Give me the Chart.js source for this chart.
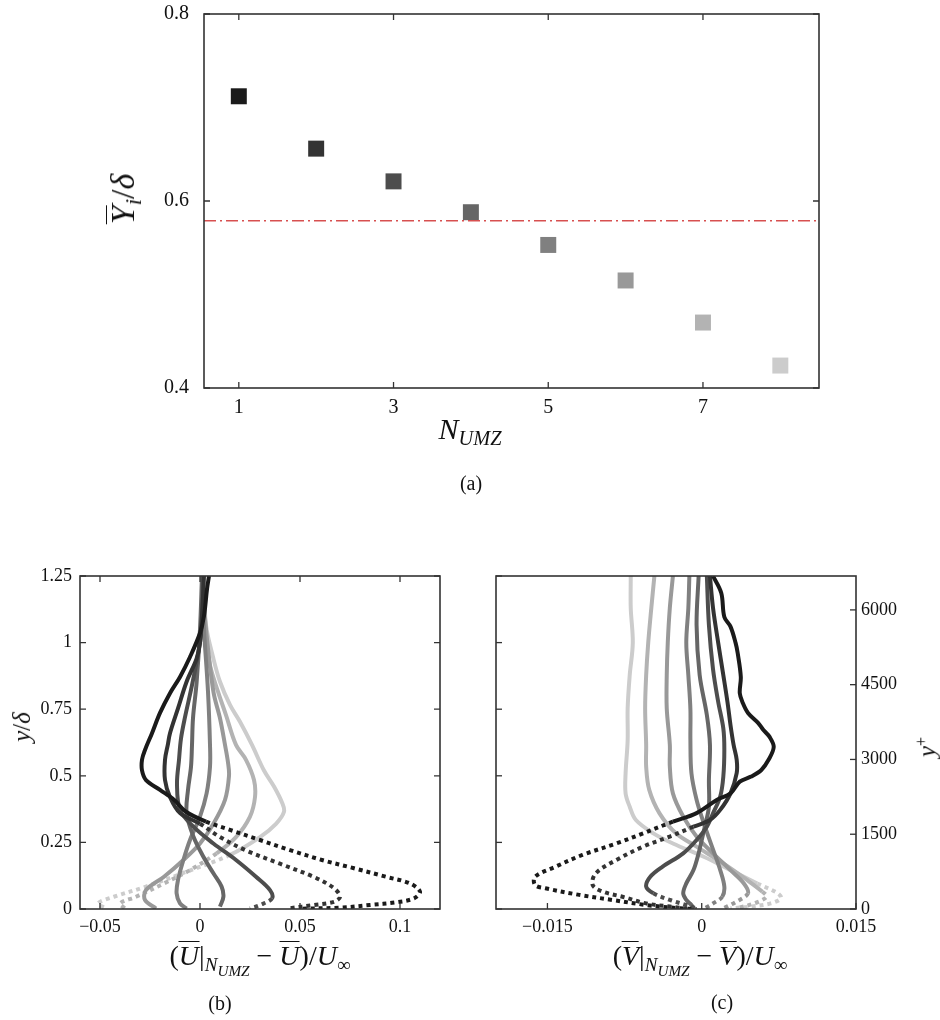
<!DOCTYPE html>
<html>
<head>
<meta charset="utf-8">
<script src="https://cdn.jsdelivr.net/npm/chart.js@4.4.1/dist/chart.umd.min.js"></script>
<style>
    body { margin: 0; width: 940px; height: 1020px; background: #fff; position: relative; overflow: hidden; }
    canvas { position: absolute; }
    .lbl { position: absolute; font-family: 'Liberation Serif', serif; color: #111; white-space: nowrap; transform: translate(-50%, -50%); }
    .rot { transform: translate(-50%, -50%) rotate(-90deg); }
    .ov { display: inline-block; border-top: 1.5px solid #111; line-height: 0.9; padding-top: 1px; }
    sub { font-size: 68%; vertical-align: -0.3em; line-height: 0; }
    sub sub { font-size: 80%; }
</style>
</head>
<body>
<canvas id="chartA" width="740" height="445" style="left:100px; top:0px"></canvas>
<canvas id="chartB" width="460" height="400" style="left:0px; top:560px"></canvas>
<canvas id="chartC" width="470" height="400" style="left:470px; top:560px"></canvas>

<div class="lbl rot" style="left:123px; top:199px; font-size:34px"><i><span class="ov">Y</span><sub>i</sub></i>/<i>δ</i></div>
<div class="lbl" style="left:470px; top:429px; font-size:30px"><i>N<sub>UMZ</sub></i></div>
<div class="lbl" style="left:471px; top:483px; font-size:20px">(a)</div>

<div class="lbl rot" style="left:22px; top:727px; font-size:25px"><i>y</i>/<i>δ</i></div>
<div class="lbl" style="left:260px; top:956px; font-size:28px">(<i class="ov">U</i>|<sub><i>N<sub>UMZ</sub></i></sub> − <i class="ov">U</i>)/<i>U</i><sub>∞</sub></div>
<div class="lbl" style="left:220px; top:1003px; font-size:20px">(b)</div>

<div class="lbl rot" style="left:927px; top:747px; font-size:25px"><i>y</i><sup style="font-size:65%">+</sup></div>
<div class="lbl" style="left:700px; top:956px; font-size:28px">(<i class="ov">V</i>|<sub><i>N<sub>UMZ</sub></i></sub> − <i class="ov">V</i>)/<i>U</i><sub>∞</sub></div>
<div class="lbl" style="left:722px; top:1002px; font-size:20px">(c)</div>

<script>
// -------------------------------------------------------------------------- Data

// (a) mean interface height per number of zones
const nUmz = [1, 2, 3, 4, 5, 6, 7, 8]
const yiMean = [0.712, 0.656, 0.621, 0.588, 0.553, 0.515, 0.470, 0.424]
const threshold = 0.579
const aXTicks = [1, 3, 5, 7]
const aYTicks = [0.4, 0.6, 0.8]

// (b) streamwise velocity deviation profiles, [du, y/delta]
const uCurve1 = [[0.0045, 1.25], [0.0035, 1.2], [0.002, 1.1], [0, 1.036], [-0.005, 0.946], [-0.01, 0.871], [-0.015, 0.81], [-0.02, 0.736], [-0.024, 0.66], [-0.0275, 0.597], [-0.029, 0.56], [-0.029, 0.52], [-0.027, 0.484], [-0.02, 0.447], [-0.013, 0.41], [-0.007, 0.365], [0.003, 0.328], [0.015, 0.297], [0.03, 0.259], [0.045, 0.221], [0.061, 0.184], [0.077, 0.153], [0.093, 0.121], [0.105, 0.096], [0.11, 0.065], [0.107, 0.04], [0.098, 0.025], [0.085, 0.015], [0.07, 0.005], [0.05, 0.001]]
const uCurve2 = [[0.002, 1.25], [0.001, 1.1], [0, 1.0], [-0.0017, 0.94], [-0.0067, 0.853], [-0.011, 0.753], [-0.015, 0.66], [-0.016, 0.62], [-0.0175, 0.56], [-0.0175, 0.484], [-0.015, 0.42], [-0.01, 0.36], [0, 0.32], [0.01, 0.27], [0.023, 0.22], [0.04, 0.17], [0.057, 0.12], [0.067, 0.078], [0.07, 0.046], [0.067, 0.027], [0.057, 0.015], [0.045, 0.003]]
const uCurve3 = [[0.0015, 1.25], [0.001, 1.1], [0, 1.0], [-0.004, 0.84], [-0.0075, 0.72], [-0.0095, 0.64], [-0.0105, 0.56], [-0.0115, 0.47], [-0.01, 0.372], [-0.0033, 0.309], [0.0067, 0.246], [0.018, 0.184], [0.028, 0.121], [0.035, 0.071], [0.036, 0.04], [0.03, 0.015], [0.025, 0.002]]
const uCurve4 = [[0.001, 1.25], [0, 1.05], [-0.0017, 0.85], [-0.0035, 0.716], [-0.004, 0.616], [-0.0045, 0.534], [-0.006, 0.447], [-0.0067, 0.359], [-0.0033, 0.272], [0.0017, 0.196], [0.0067, 0.134], [0.0108, 0.084], [0.0117, 0.046], [0.01, 0.009]]
const uCurve5 = [[0.001, 1.25], [0.002, 1.05], [0.004, 0.816], [0.005, 0.616], [0.005, 0.534], [0.0033, 0.434], [0, 0.347], [-0.005, 0.259], [-0.0083, 0.184], [-0.011, 0.109], [-0.0117, 0.059], [-0.01, 0.021], [-0.0067, 0.002]]
const uCurve6 = [[0.001, 1.25], [0.003, 1.05], [0.0067, 0.816], [0.01, 0.716], [0.0125, 0.616], [0.014, 0.55], [0.0145, 0.5], [0.0125, 0.41], [0.0067, 0.32], [0, 0.246], [-0.0083, 0.184], [-0.018, 0.121], [-0.027, 0.071], [-0.0275, 0.034], [-0.022, 0.002]]
const uCurve7 = [[0.001, 1.25], [0.002, 1.066], [0.005, 0.915], [0.009, 0.816], [0.013, 0.728], [0.018, 0.616], [0.023, 0.56], [0.027, 0.484], [0.0275, 0.42], [0.025, 0.347], [0.018, 0.27], [0.0083, 0.209], [-0.005, 0.146], [-0.018, 0.096], [-0.032, 0.046], [-0.04, 0.021], [-0.0375, 0.002]]
const uCurve8 = [[0.0017, 1.25], [0.003, 1.066], [0.0067, 0.94], [0.01, 0.853], [0.015, 0.766], [0.02, 0.703], [0.026, 0.616], [0.032, 0.52], [0.037, 0.46], [0.041, 0.4], [0.042, 0.365], [0.038, 0.32], [0.03, 0.27], [0.015, 0.203], [-0.0067, 0.14], [-0.027, 0.084], [-0.043, 0.046], [-0.051, 0.021], [-0.047, 0.002]]
const bXTicks = [-0.05, 0, 0.05, 0.1]
const yTicks = [0, 0.25, 0.5, 0.75, 1, 1.25]

// (c) wall-normal velocity deviation profiles, [dv, y/delta]
const vCurve1 = [[0.0011, 1.25], [0.0019, 1.186], [0.0022, 1.096], [0.0028, 1.06], [0.0033, 0.998], [0.0035, 0.96], [0.0038, 0.871], [0.0037, 0.81], [0.004, 0.773], [0.0045, 0.736], [0.0055, 0.698], [0.006, 0.672], [0.0066, 0.646], [0.007, 0.608], [0.0065, 0.56], [0.0058, 0.522], [0.0048, 0.497], [0.0037, 0.478], [0.0028, 0.434], [0.0015, 0.41], [-0.0005, 0.36], [-0.0028, 0.328], [-0.0057, 0.284], [-0.0083, 0.246], [-0.0116, 0.203], [-0.0142, 0.159], [-0.0162, 0.121], [-0.0162, 0.09], [-0.0152, 0.078], [-0.0119, 0.053], [-0.0087, 0.034], [-0.0054, 0.015], [-0.0021, 0.0025], [-0.0005, 0]]
const vCurve2 = [[0.0008, 1.25], [0.0011, 1.13], [0.0016, 1.0], [0.0021, 0.878], [0.0025, 0.778], [0.0028, 0.69], [0.0031, 0.616], [0.0034, 0.56], [0.0034, 0.51], [0.0028, 0.434], [0.0018, 0.372], [0.0008, 0.334], [-0.0008, 0.309], [-0.0031, 0.272], [-0.0057, 0.234], [-0.0083, 0.184], [-0.0103, 0.134], [-0.0106, 0.09], [-0.0096, 0.065], [-0.0077, 0.046], [-0.0054, 0.021], [-0.0031, 0.009], [-0.0011, 0]]
const vCurve3 = [[0.0005, 1.25], [0.0007, 1.066], [0.0011, 0.9], [0.0016, 0.778], [0.0021, 0.678], [0.0022, 0.6], [0.0021, 0.497], [0.0018, 0.422], [0.0011, 0.359], [0.0005, 0.309], [-0.0005, 0.259], [-0.0018, 0.209], [-0.0038, 0.159], [-0.005, 0.121], [-0.0054, 0.084], [-0.0047, 0.059], [-0.0031, 0.034], [-0.0015, 0.015], [-0.0005, 0.002]]
const vCurve4 = [[-0.0003, 1.25], [-0.0005, 1.066], [-0.0002, 0.878], [0.0005, 0.728], [0.0008, 0.616], [0.0007, 0.484], [0.0007, 0.384], [0.0003, 0.309], [0, 0.259], [-0.0003, 0.209], [-0.0008, 0.146], [-0.0015, 0.096], [-0.0018, 0.059], [-0.0015, 0.034], [-0.001, 0.015], [-0.0008, 0.002]]
const vCurve5 = [[-0.0012, 1.25], [-0.0013, 1.13], [-0.0015, 1.0], [-0.0013, 0.878], [-0.0011, 0.75], [-0.0011, 0.634], [-0.001, 0.51], [-0.0005, 0.41], [0.0002, 0.322], [0.001, 0.234], [0.0018, 0.146], [0.0022, 0.084], [0.002, 0.046], [0.0011, 0.021], [0.0003, 0.0025]]
const vCurve6 = [[-0.0028, 1.25], [-0.0031, 1.13], [-0.0033, 1.0], [-0.0034, 0.878], [-0.0034, 0.753], [-0.0031, 0.616], [-0.0031, 0.534], [-0.0028, 0.434], [-0.0018, 0.347], [-0.0005, 0.272], [0.0011, 0.209], [0.0028, 0.146], [0.0041, 0.096], [0.0045, 0.059], [0.0034, 0.028], [0.0021, 0.0025]]
const vCurve7 = [[-0.0046, 1.25], [-0.0049, 1.13], [-0.0052, 1.0], [-0.0054, 0.878], [-0.0055, 0.753], [-0.0054, 0.616], [-0.0054, 0.534], [-0.0051, 0.447], [-0.0041, 0.359], [-0.0025, 0.284], [-0.0005, 0.234], [0.0021, 0.171], [0.0044, 0.109], [0.0059, 0.065], [0.0063, 0.046], [0.0051, 0.021], [0.0034, 0.0025]]
const vCurve8 = [[-0.0069, 1.25], [-0.0069, 1.13], [-0.0067, 1.0], [-0.007, 0.878], [-0.0072, 0.753], [-0.0072, 0.634], [-0.0074, 0.51], [-0.0074, 0.434], [-0.007, 0.384], [-0.0064, 0.334], [-0.0047, 0.284], [-0.0028, 0.246], [0.0002, 0.196], [0.0028, 0.146], [0.0054, 0.096], [0.0074, 0.059], [0.0077, 0.04], [0.0067, 0.021], [0.0047, 0.009], [0.0028, 0.0025]]
const cXTicks = [-0.015, 0, 0.015]
const yPlusTicks = [0, 1500, 3000, 4500, 6000]
const yPlusMax = 6680

// -------------------------------------------------------------------------- Styles

const grays = ['#1a1a1a', '#333333', '#4d4d4d', '#666666', '#808080', '#999999', '#b3b3b3', '#cccccc']
const frameColor = '#333'
const noGrid = { display: false, drawTicks: false, tickLength: 0 }

Chart.defaults.font.family = "'Liberation Serif', serif"
Chart.defaults.color = '#111'
Chart.defaults.animation = false

const fmt = v => String(v).replace('-', '\u2212')
const setTicks = list => s => { s.ticks = list.map(v => ({ value: v })) }
const fixWidth = w => s => { s.width = w; s.paddingTop = 0; s.paddingBottom = 0 }
const fixHeight = h => s => { s.height = h; s.paddingLeft = 0; s.paddingRight = 0 }

// box round the plot area and inward ticks
const frameTicks = {
    id: 'frameTicks',
    afterDatasetsDraw(chart, args, opts) {
        const { ctx, chartArea: a } = chart
        const len = 6
        ctx.save()
        ctx.strokeStyle = frameColor
        ctx.lineWidth = 1.3
        for (const m of opts.marks) {
            const s = chart.scales[m.scale]
            for (const v of m.values) {
                const p = s.getPixelForValue(v)
                ctx.beginPath()
                if (m.sides.includes('bottom')) { ctx.moveTo(p, a.bottom); ctx.lineTo(p, a.bottom - len) }
                if (m.sides.includes('top')) { ctx.moveTo(p, a.top); ctx.lineTo(p, a.top + len) }
                if (m.sides.includes('left')) { ctx.moveTo(a.left, p); ctx.lineTo(a.left + len, p) }
                if (m.sides.includes('right')) { ctx.moveTo(a.right, p); ctx.lineTo(a.right - len, p) }
                ctx.stroke()
            }
        }
        ctx.lineWidth = 1.6
        ctx.strokeRect(a.left, a.top, a.right - a.left, a.bottom - a.top)
        ctx.restore()
    }
}

const profile = (pts, i, dashBelow) => ({
    data: pts.map(p => ({ x: p[0], y: p[1] })),
    showLine: true,
    borderColor: grays[i],
    borderWidth: 4,
    pointRadius: 0,
    tension: 0.35,
    segment: {
        borderDash: ctx => (ctx.p1.parsed.y < dashBelow ? [4, 4] : undefined)
    }
})

// -------------------------------------------------------------------------- Chart (a)

const aXMin = 0.55
const aXMax = 8.5

new Chart(document.getElementById('chartA'), {
    type: 'scatter',
    data: {
        datasets: [{
            data: nUmz.map((n, i) => ({ x: n, y: yiMean[i] })),
            pointStyle: 'rect',
            pointRadius: 11.3,
            pointHoverRadius: 11.3,
            pointBorderWidth: 0,
            pointBackgroundColor: grays,
            order: 2
        }, {
            data: [{ x: aXMin, y: threshold }, { x: aXMax, y: threshold }],
            showLine: true,
            pointRadius: 0,
            borderColor: 'rgb(215, 80, 80)',
            borderWidth: 1.5,
            borderDash: [12, 4, 2, 4],
            order: 1
        }]
    },
    options: {
        responsive: false,
        layout: { padding: { top: 14, right: 21, left: 0, bottom: 0 } },
        plugins: {
            legend: { display: false },
            tooltip: { enabled: false },
            frameTicks: { marks: [
                { scale: 'x', values: aXTicks, sides: ['bottom', 'top'] },
                { scale: 'y', values: aYTicks, sides: ['left', 'right'] }
            ] }
        },
        scales: {
            x: {
                type: 'linear', min: aXMin, max: aXMax,
                grid: noGrid, border: { display: false },
                ticks: { font: { size: 20 }, padding: 8, maxRotation: 0, autoSkip: false, callback: fmt },
                afterBuildTicks: setTicks(aXTicks),
                afterFit: fixHeight(57)
            },
            y: {
                min: 0.4, max: 0.8,
                grid: noGrid, border: { display: false },
                ticks: { font: { size: 20 }, padding: 15, callback: fmt },
                afterBuildTicks: setTicks(aYTicks),
                afterFit: fixWidth(104)
            }
        }
    },
    plugins: [frameTicks]
})

// -------------------------------------------------------------------------- Chart (b)

const uCurves = [uCurve1, uCurve2, uCurve3, uCurve4, uCurve5, uCurve6, uCurve7, uCurve8]
const uDash = [0.3, 0.28, 0.03, 0, 0, 0, 0.15, 0.17]

new Chart(document.getElementById('chartB'), {
    type: 'scatter',
    data: { datasets: uCurves.map((c, i) => profile(c, i, uDash[i])) },
    options: {
        responsive: false,
        layout: { padding: { top: 16, right: 20, left: 0, bottom: 0 } },
        plugins: {
            legend: { display: false },
            tooltip: { enabled: false },
            frameTicks: { marks: [
                { scale: 'x', values: bXTicks, sides: ['bottom', 'top'] },
                { scale: 'y', values: yTicks, sides: ['left', 'right'] }
            ] }
        },
        scales: {
            x: {
                type: 'linear', min: -0.06, max: 0.12,
                grid: noGrid, border: { display: false },
                ticks: { font: { size: 18 }, padding: 7, maxRotation: 0, autoSkip: false, callback: fmt },
                afterBuildTicks: setTicks(bXTicks),
                afterFit: fixHeight(51)
            },
            y: {
                min: 0, max: 1.25,
                grid: noGrid, border: { display: false },
                ticks: { font: { size: 18 }, padding: 8, callback: fmt },
                afterBuildTicks: setTicks(yTicks),
                afterFit: fixWidth(80)
            }
        }
    },
    plugins: [frameTicks]
})

// -------------------------------------------------------------------------- Chart (c)

const vCurves = [vCurve1, vCurve2, vCurve3, vCurve4, vCurve5, vCurve6, vCurve7, vCurve8]
const vDash = [0.3, 0.28, 0.04, 0, 0.03, 0.05, 0.06, 0.07]

new Chart(document.getElementById('chartC'), {
    type: 'scatter',
    data: { datasets: vCurves.map((c, i) => profile(c, i, vDash[i])) },
    options: {
        responsive: false,
        layout: { padding: { top: 16, right: 0, left: 0, bottom: 0 } },
        plugins: {
            legend: { display: false },
            tooltip: { enabled: false },
            frameTicks: { marks: [
                { scale: 'x', values: cXTicks, sides: ['bottom'] },
                { scale: 'y', values: yTicks, sides: ['left'] },
                { scale: 'y2', values: yPlusTicks, sides: ['right'] }
            ] }
        },
        scales: {
            x: {
                type: 'linear', min: -0.02, max: 0.015,
                grid: noGrid, border: { display: false },
                ticks: { font: { size: 18 }, padding: 7, maxRotation: 0, autoSkip: false, callback: fmt },
                afterBuildTicks: setTicks(cXTicks),
                afterFit: fixHeight(51)
            },
            y: {
                min: 0, max: 1.25,
                grid: noGrid, border: { display: false },
                ticks: { display: false },
                afterBuildTicks: setTicks(yTicks),
                afterFit: fixWidth(26)
            },
            y2: {
                position: 'right', min: 0, max: yPlusMax,
                grid: noGrid, border: { display: false },
                ticks: { font: { size: 18 }, padding: 5, callback: fmt },
                afterBuildTicks: setTicks(yPlusTicks),
                afterFit: fixWidth(84)
            }
        }
    },
    plugins: [frameTicks]
})
</script>
</body>
</html>
